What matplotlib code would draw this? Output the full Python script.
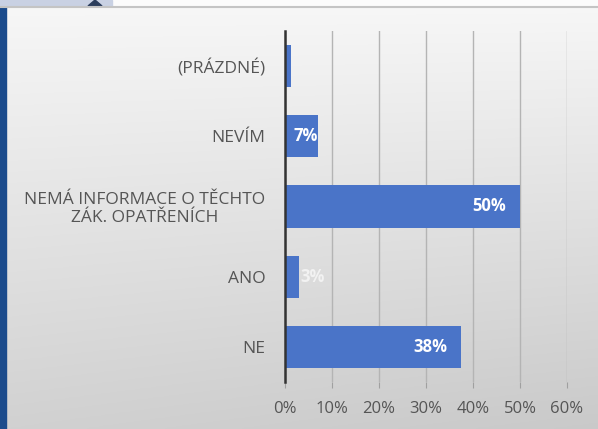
import matplotlib
matplotlib.use("Agg")
import matplotlib.pyplot as plt
import numpy as np
from matplotlib.patches import Rectangle, Polygon

# ─── Data ─────────────────────────────────────────────
categories = ["(PRÁZDNÉ)", "NEVÍM", "NEMÁ INFORMACE O TĚCHTO\nZÁK. OPATŘENÍCH", "ANO", "NE"]
values = [1.3, 7, 50, 3, 37.5]
labels = ["", "7%", "50%", "3%", "38%"]
x_ticks = [0, 10, 20, 30, 40, 50, 60]

plt.rcParams["font.family"] = ["Open Sans", "DejaVu Sans"]

fig = plt.figure(figsize=(5.98, 4.29), dpi=100)

# background gradient over whole figure
bg = fig.add_axes([0, 0, 1, 1], zorder=0)
yy, xx = np.mgrid[0:1:200j, 0:1:200j]
shade = 0.97 - 0.15 * yy - 0.03 * xx * yy
bg.imshow(np.dstack([shade, shade, shade]), extent=[0, 1, 0, 1], aspect="auto",
          origin="upper")
bg.set_xlim(0, 1)
bg.set_ylim(0, 1)
bg.axis("off")
# top strip and left blue bar
bg.add_patch(Rectangle((0, 1 - 6 / 429), 1, 6 / 429, color="#fbfbfb"))
bg.add_patch(Rectangle((0, 1 - 6 / 429), 112 / 598, 6 / 429, color="#c9d1e3"))
bg.add_patch(Polygon([(88 / 598, 1 - 6 / 429), (95 / 598, 1), (102 / 598, 1 - 6 / 429)],
                     color="#2b3d5c"))
bg.plot([0, 1], [1 - 7 / 429, 1 - 7 / 429], color="#c4c4c4", lw=1.5)
bg.add_patch(Rectangle((0, 0), 6 / 598, 1 - 7 / 429, color="#1b4b8c"))

ax = fig.add_axes([285 / 598, 1 - 382 / 429, 282 / 598, 351 / 429], zorder=1)
ax.patch.set_alpha(0)

y = np.arange(len(categories))
bars = ax.barh(y, values, height=0.6, color="#4a74c8", zorder=3)
ax.set_ylim(len(categories) - 0.5, -0.5)
ax.set_xlim(0, 60)
ax.set_xticks(x_ticks)
ax.set_xticklabels([f"{t}%" for t in x_ticks], color="#555555", fontsize=12)
ax.set_yticks(y)
ax.set_yticklabels(categories, color="#555555", fontsize=12.5, linespacing=1.15)
for lbl in ax.get_yticklabels():
    lbl.set_multialignment("center")
ax.tick_params(axis="y", length=0, pad=14)
ax.tick_params(axis="x", length=4, color="#a0a0a0", pad=10)
ax.grid(axis="x", color="#b4b4b4", lw=1.0, zorder=1)
for side in ["top", "right", "bottom"]:
    ax.spines[side].set_visible(False)
ax.spines["left"].set_color("#333333")
ax.spines["left"].set_linewidth(1.8)
ax.spines["left"].set_zorder(4)

for i, (v, t) in enumerate(zip(values, labels)):
    if not t:
        continue
    if v < 5:
        ax.annotate(t, (v, i), xytext=(1, 0), textcoords="offset points",
                    ha="left", va="center", color="#f2f2f2", fontsize=12, fontweight="bold")
    elif v < 10:
        ax.annotate(t, (v, i), xytext=(0, 0), textcoords="offset points",
                    ha="right", va="center", color="white", fontsize=12, fontweight="bold")
    else:
        ax.annotate(t, (v, i), xytext=(-10, 0), textcoords="offset points",
                    ha="right", va="center", color="white", fontsize=12, fontweight="bold")

fig.savefig("out.png", dpi=100)
